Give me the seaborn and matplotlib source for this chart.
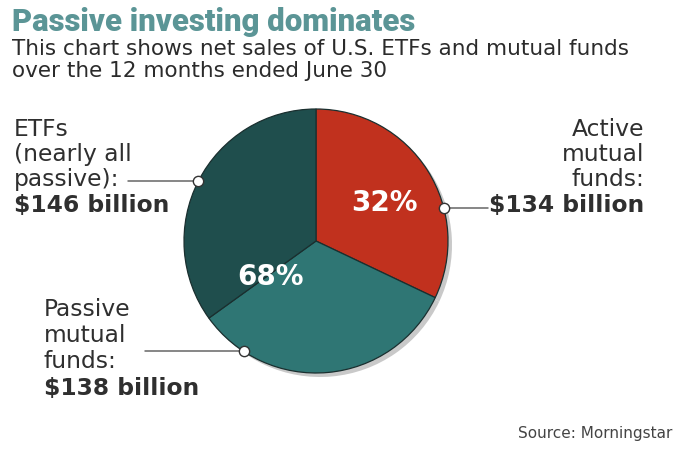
import numpy as np
import matplotlib
matplotlib.use("Agg")
import matplotlib.pyplot as plt
import seaborn as sns

# ---- data ----
categories = ["Active mutual funds", "Passive mutual funds", "ETFs (nearly all passive)"]
net_sales = [134, 138, 146]          # $ billion
slice_colors = ["#C1311E", "#2F7674", "#1F4E4D"]
pct_labels = ["32%", "68%"]
title = "Passive investing dominates"
subtitle = ["This chart shows net sales of U.S. ETFs and mutual funds",
            "over the 12 months ended June 30"]
source = "Source: Morningstar"

sns.set_theme(style="white")
plt.rcParams["font.family"] = ["DejaVu Sans"]

W, H = 691, 461
fig = plt.figure(figsize=(W / 100, H / 100), dpi=100)
fig.patch.set_facecolor("white")
ax = fig.add_axes([0, 0, 1, 1])

cx, cy, R = 316, 241, 132

# shadow
ax.pie(net_sales, colors=["#C9C9C9"] * 3, startangle=-90, counterclock=True,
       center=(cx + 4, cy + 4), radius=R, frame=True,
       wedgeprops=dict(linewidth=0))
# main pie (y axis inverted -> counterclock=True renders clockwise on screen)
ax.pie(net_sales, colors=slice_colors, startangle=-90, counterclock=True,
       center=(cx, cy), radius=R, frame=True,
       wedgeprops=dict(linewidth=0.9, edgecolor="#1a2f2f"))
ax.set_xlim(0, W)
ax.set_ylim(H, 0)
ax.axis("off")

# percentage labels
ax.text(384, 203, pct_labels[0], color="white", fontsize=20, fontweight="bold",
        ha="center", va="center")
ax.text(271, 277, pct_labels[1], color="white", fontsize=20, fontweight="bold",
        ha="center", va="center")

# leader lines + dots
def leader(angle_deg, x_end):
    a = np.deg2rad(angle_deg)
    px, py = cx + R * np.cos(a), cy - R * np.sin(a)
    ax.plot([x_end, px], [py, py], color="#666666", lw=1.1, zorder=5)
    ax.scatter([px], [py], s=55, facecolor="white", edgecolor="#333333",
               linewidth=1.0, zorder=6)

leader(153.0, 128)
leader(14.6, 488)
leader(236.8, 145)

lab_kw = dict(fontsize=16.8, color="#2f2f2f", va="baseline")
# ETFs block
for t, y in zip(["ETFs", "(nearly all", "passive):"], [136, 161, 186]):
    ax.text(14, y, t, ha="left", **lab_kw)
ax.text(14, 212, "$146 billion", ha="left", fontweight="bold", **lab_kw)
# Active block
for t, y in zip(["Active", "mutual", "funds:"], [136, 161, 186]):
    ax.text(644, y, t, ha="right", **lab_kw)
ax.text(644, 212, "$134 billion", ha="right", fontweight="bold", **lab_kw)
# Passive block
for t, y in zip(["Passive", "mutual", "funds:"], [316, 342, 368]):
    ax.text(44, y, t, ha="left", **lab_kw)
ax.text(44, 395, "$138 billion", ha="left", fontweight="bold", **lab_kw)

# titles
ax.text(12, 31, title, fontsize=22.4, fontweight=900, color="#5B9596",
        family=["Roboto", "DejaVu Sans"], ha="left", va="baseline")
ax.text(12, 55, subtitle[0], fontsize=15.5, color="#2b2b2b", ha="left", va="baseline")
ax.text(12, 77, subtitle[1], fontsize=15.5, color="#2b2b2b", ha="left", va="baseline")
ax.text(672, 433, source, fontsize=11, color="#444444", ha="right", va="center")

fig.savefig("out.png", dpi=100, facecolor="white")
